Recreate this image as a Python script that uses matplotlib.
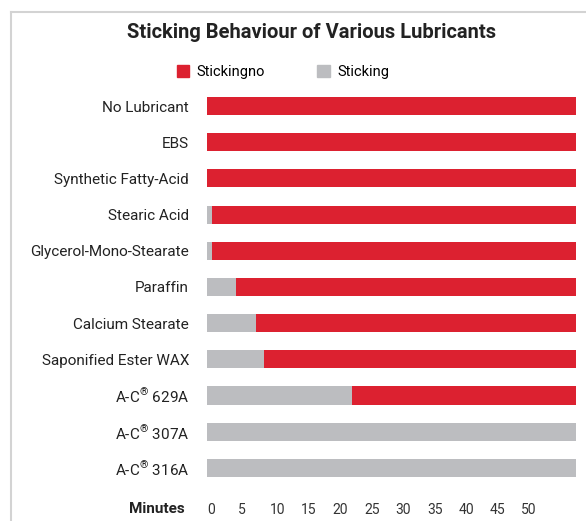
import matplotlib
matplotlib.use("Agg")
import matplotlib.pyplot as plt
from matplotlib.lines import Line2D

plt.rcParams["font.family"] = ["Roboto", "DejaVu Sans"]
plt.rcParams["mathtext.fontset"] = "custom"
plt.rcParams["mathtext.rm"] = "Roboto"

# data (minutes)
lubricants = [
    "No Lubricant", "EBS", "Synthetic Fatty-Acid", "Stearic Acid",
    "Glycerol-Mono-Stearate", "Paraffin", "Calcium Stearate",
    "Saponified Ester WAX", "A-C$^{\u00ae}$ 629A", "A-C$^{\u00ae}$ 307A",
    "A-C$^{\u00ae}$ 316A",
]
sticking = [0, 0, 0, 0.8, 0.8, 4.6, 7.8, 9.1, 23.1, 58.7, 58.7]
total = [58.7] * len(lubricants)
no_sticking = [t - s for t, s in zip(total, sticking)]
ticks = [0, 5, 10, 15, 20, 25, 30, 35, 40, 45, 50]

RED = "#DC2130"
GREY = "#BCBDC0"
W, H = 586, 521

fig = plt.figure(figsize=(W / 100, H / 100), dpi=100)

# axes: x 207..576 px, y 88..486 px
ax = fig.add_axes([207 / W, 1 - 486 / H, (576 - 207) / W, (486 - 88) / H])
y = list(range(len(lubricants)))
ax.barh(y, sticking, height=0.5, color=GREY, label="Sticking")
ax.barh(y, no_sticking, left=sticking, height=0.5, color=RED, label="Stickingno")
ax.set_xlim(0, 58.7)
ax.set_ylim(len(lubricants) - 0.5, -0.5)

ax.set_yticks(y, labels=lubricants)
ax.set_xticks(ticks, labels=[str(t) for t in ticks])
for lab in ax.get_xticklabels():
    lab.set_horizontalalignment("left")
ax.tick_params(axis="y", length=0, pad=13, labelsize=11, labelcolor="#222222")
ax.tick_params(axis="x", length=0, pad=12, labelsize=10, labelcolor="#333333")
for s in ax.spines.values():
    s.set_visible(False)

fig.text(185 / W, 1 - 509 / H, "Minutes", ha="right", va="center",
         fontsize=11, fontweight="bold", color="#222222")

# title
fig.text(312 / W, 1 - 33 / H, "Sticking Behaviour of Various Lubricants",
         ha="center", va="center", fontsize=14.5, fontweight="bold", color="#222222")

# legend
handles = [
    plt.Rectangle((0, 0), 1, 1, color=RED),
    plt.Rectangle((0, 0), 1, 1, color=GREY),
]
fig.legend(handles, ["Stickingno", "Sticking"], loc="center",
           bbox_to_anchor=(283 / W, 1 - 72 / H), ncol=2, frameon=False,
           fontsize=10.5, handlelength=0.85, handleheight=0.85,
           columnspacing=3.6, handletextpad=0.5)

# light frame around the chart
fig.add_artist(Line2D([11 / W, 11 / W], [0, 1 - 12 / H], color="#D3D3D3", lw=1.5))
fig.add_artist(Line2D([11 / W, 1], [1 - 12 / H, 1 - 12 / H], color="#D3D3D3", lw=1.5))

fig.savefig("out.png", dpi=100)
